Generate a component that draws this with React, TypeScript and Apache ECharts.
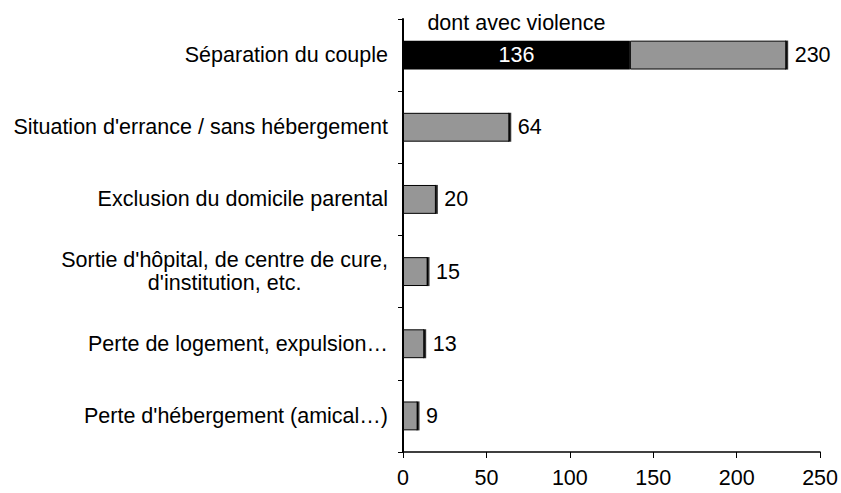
import React, { useEffect, useRef } from "react";
import * as echarts from "echarts";

const categories = [
  "Séparation du couple",
  "Situation d'errance / sans hébergement",
  "Exclusion du domicile parental",
  "Sortie d'hôpital, de centre de cure,\nd'institution, etc.",
  "Perte de logement, expulsion…",
  "Perte d'hébergement (amical…)",
];
const totals = [230, 64, 20, 15, 13, 9];
const violence = [136, 0, 0, 0, 0, 0];
const violenceLabel = "dont avec violence";
const xTicks = [0, 50, 100, 150, 200, 250];

export default function App() {
  const ref = useRef<HTMLDivElement>(null);
  useEffect(() => {
    const chart = echarts.init(ref.current!, null, { renderer: "svg" });
    const font = "Arial, 'Liberation Sans', sans-serif";
    const fs = 21.5;
    const rest = totals.map((t, i) => t - violence[i]);
    chart.setOption({
      animation: false,
      grid: { left: 403, right: 19, top: 19, bottom: 41, containLabel: false },
      xAxis: {
        type: "value",
        min: xTicks[0],
        max: xTicks[xTicks.length - 1],
        interval: 50,
        splitLine: { show: false },
        axisLine: { show: true, lineStyle: { color: "#000", width: 1.5 } },
        axisTick: { show: true, length: 6, lineStyle: { color: "#000" } },
        axisLabel: { color: "#000", fontSize: fs, fontFamily: font, margin: 15 },
      },
      yAxis: {
        type: "category",
        inverse: true,
        data: categories,
        axisLine: { show: true, lineStyle: { color: "#000", width: 2 } },
        axisTick: { show: true, length: 5, lineStyle: { color: "#000" } },
        axisLabel: {
          color: "#000",
          fontSize: fs,
          fontFamily: font,
          margin: 15,
          lineHeight: 23,
          formatter: (v: string) =>
            v.includes("\n")
              ? v.split("\n").map((l) => `{c|${l}}`).join("\n")
              : v,
          rich: { c: { align: "center", fontSize: fs, fontFamily: font, color: "#000", lineHeight: 23 } },
        },
      },
      series: [
        {
          type: "bar",
          stack: "t",
          data: violence,
          barWidth: "40%",
          itemStyle: { color: "#000", borderColor: "#000", borderWidth: 2 },
          label: {
            show: true,
            position: "inside",
            color: "#fff",
            fontSize: fs,
            fontFamily: font,
            formatter: (p: any) => (p.value > 0 ? String(p.value) : ""),
          },
        },
        {
          type: "bar",
          stack: "t",
          data: rest,
          barWidth: "40%",
          itemStyle: { color: "#969696", borderColor: "#000", borderWidth: 1 },
          label: {
            show: true,
            position: "right",
            distance: 8,
            color: "#000",
            fontSize: fs,
            fontFamily: font,
            formatter: (p: any) => String(totals[p.dataIndex]),
          },
        },
        {
          type: "bar",
          data: violence,
          barWidth: "40%",
          barGap: "-100%",
          silent: true,
          itemStyle: { color: "rgba(0,0,0,0)" },
          label: {
            show: true,
            position: "top",
            distance: 7,
            color: "#000",
            fontSize: fs,
            fontFamily: font,
            formatter: (p: any) => (p.value > 0 ? violenceLabel : ""),
          },
        },
        {
          type: "scatter",
          data: totals.map((t, i) => [t, categories[i]]),
          symbol: "rect",
          symbolSize: [3, 29],
          itemStyle: { color: "#000" },
          silent: true,
          z: 5,
        },
      ],
    });
    return () => chart.dispose();
  }, []);
  return (
    <div
      ref={ref}
      style={{ position: "absolute", left: 0, top: 0, width: 841, height: 493 }}
    />
  );
}
